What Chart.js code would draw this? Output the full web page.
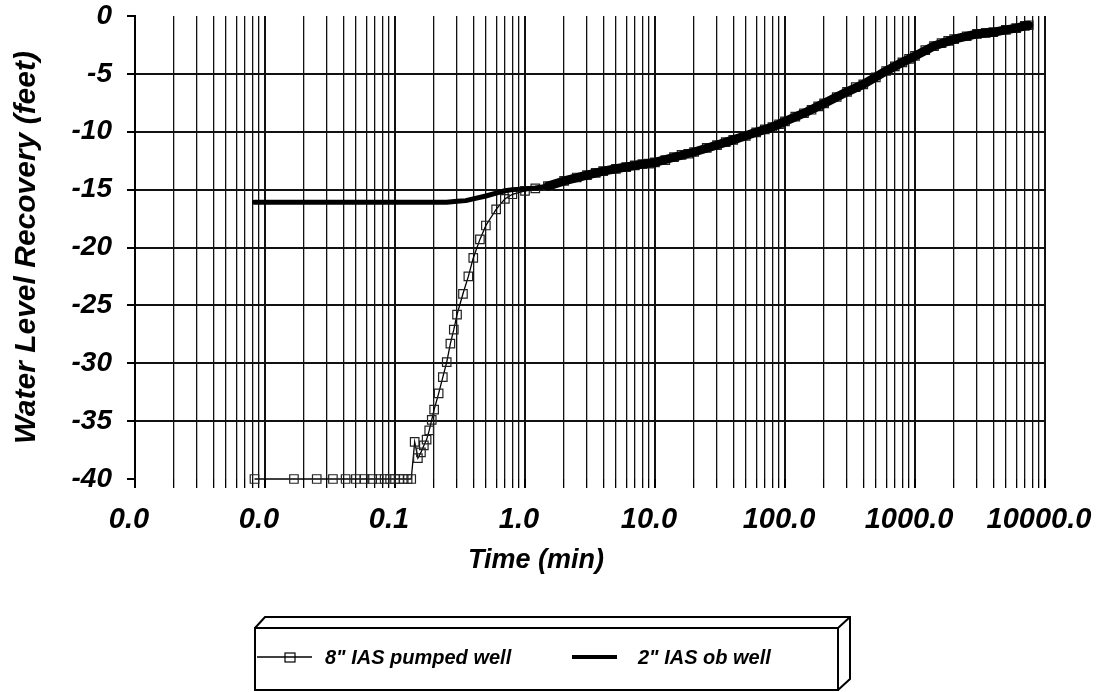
<!DOCTYPE html>
<html>
<head>
<meta charset="utf-8">
<script src="https://cdn.jsdelivr.net/npm/chart.js@4.4.0/dist/chart.umd.min.js"></script>
<style>
    body { margin: 0; background: #fff; }
    #wrap { width: 1101px; height: 692px; }
</style>
</head>
<body>
<div id="wrap"><canvas id="chartRecovery"></canvas></div>
<script>
// time since pump stop (min) and water level recovery (feet)
const pumpedTime = [0.0083, 0.0167, 0.025, 0.0333, 0.0417, 0.05, 0.0583, 0.0667, 0.075, 0.0833, 0.0917, 0.1, 0.1083, 0.1167, 0.125, 0.1333,
    0.1417, 0.15, 0.1583, 0.1667, 0.175, 0.1833, 0.1917, 0.2, 0.2167, 0.2333, 0.25, 0.2667, 0.2833, 0.3, 0.3333, 0.3667, 0.4, 0.45, 0.5,
    0.6, 0.7, 0.8, 1.0, 1.2, 1.5, 2, 2.5, 3, 3.5, 4, 5, 6, 7, 8, 9, 10, 12, 14, 16, 18, 20, 25, 30, 35, 40, 50, 60, 70, 80, 90,
    100, 120, 140, 160, 180, 200, 250, 300, 350, 400, 500, 600, 700, 800, 900, 1000, 1200, 1400, 1600, 1800, 2000, 2500, 3000,
    3500, 4000, 5000, 6000, 7000, 7500]
const pumpedLevel = [-40, -40, -40, -40, -40, -40, -40, -40, -40, -40, -40, -40, -40, -40, -40, -40,
    -36.8, -38.2, -37.7, -37.1, -36.6, -35.8, -34.9, -34.0, -32.6, -31.2, -29.9, -28.3, -27.1, -25.8, -24.0, -22.5, -20.9, -19.3, -18.1,
    -16.7, -15.8, -15.4, -15.1, -14.9, -14.7, -14.25, -13.95, -13.75, -13.55, -13.4, -13.2, -13.05, -12.9, -12.8, -12.75, -12.65,
    -12.45, -12.2, -12.0, -11.9, -11.75, -11.4, -11.15, -10.9, -10.7, -10.35, -10.05, -9.8, -9.6, -9.35,
    -9.1, -8.7, -8.4, -8.1, -7.8, -7.55, -7.0, -6.55, -6.15, -5.9, -5.3, -4.75, -4.35, -4.0, -3.7, -3.45, -2.95, -2.6, -2.35,
    -2.15, -2.0, -1.75, -1.55, -1.45, -1.4, -1.2, -1.05, -0.85, -0.8]

const obTime = [0.0083, 0.0167, 0.025, 0.0333, 0.05, 0.0667, 0.0833, 0.1, 0.125, 0.15, 0.175, 0.2, 0.25, 0.3, 0.35, 0.4, 0.5,
    0.6, 0.7, 0.8, 1.0, 1.2, 1.5, 2, 3, 4, 5, 6, 8, 10, 14, 20, 30, 40, 60, 80, 100, 140, 200, 300, 400, 600, 800, 1000,
    1400, 2000, 3000, 4000, 5000, 6000, 7000, 7500]
const obLevel = [-16.1, -16.1, -16.1, -16.1, -16.1, -16.1, -16.1, -16.1, -16.1, -16.1, -16.1, -16.1, -16.1, -16.0, -15.95, -15.8, -15.55,
    -15.3, -15.1, -15.0, -14.95, -14.85, -14.7, -14.25, -13.75, -13.4, -13.2, -13.05, -12.8, -12.65, -12.2, -11.75, -11.15, -10.7,
    -10.05, -9.6, -9.1, -8.4, -7.55, -6.55, -5.9, -4.75, -4.0, -3.45, -2.6, -2.0, -1.55, -1.4, -1.2, -1.05, -0.85, -0.8]

const seriesNames = ['8" IAS pumped well', '2" IAS ob well']
const xTickLabels = ['0.0', '0.0', '0.1', '1.0', '10.0', '100.0', '1000.0', '10000.0']
const yTickLabels = ['0', '-5', '-10', '-15', '-20', '-25', '-30', '-35', '-40']

const FONT = '"Liberation Sans", Arial, sans-serif';

function isDecade(v) {
    const lg = Math.log10(v);
    return Math.abs(lg - Math.round(lg)) < 1e-6;
}

// labels must not push the plot area around
function noScalePadding(scale) {
    scale.paddingTop = 0;
    scale.paddingBottom = 0;
    scale.paddingLeft = 0;
    scale.paddingRight = 0;
}

// x axis title + the boxed legend
const decorations = {
    id: 'decorations',
    afterDraw(chart) {
        const ctx = chart.ctx;
        ctx.save();
        ctx.fillStyle = '#000';
        ctx.strokeStyle = '#000';
        ctx.font = 'italic bold 27px ' + FONT;
        ctx.textAlign = 'center';
        ctx.textBaseline = 'middle';
        ctx.fillText('Time (min)', 536, 561);

        // legend box with its bevel
        ctx.lineWidth = 2;
        ctx.strokeRect(255, 628, 583, 62);
        ctx.beginPath();
        ctx.moveTo(255, 628);
        ctx.lineTo(265, 617);
        ctx.lineTo(850, 617);
        ctx.lineTo(850, 679);
        ctx.lineTo(838, 690);
        ctx.moveTo(838, 628);
        ctx.lineTo(850, 617);
        ctx.stroke();

        // pumped well sample
        ctx.lineWidth = 1.5;
        ctx.beginPath();
        ctx.moveTo(257, 657);
        ctx.lineTo(312, 657);
        ctx.stroke();
        ctx.lineWidth = 1.2;
        ctx.strokeRect(285, 653, 10, 9);
        // ob well sample
        ctx.lineWidth = 4;
        ctx.beginPath();
        ctx.moveTo(572, 657);
        ctx.lineTo(617, 657);
        ctx.stroke();

        ctx.font = 'italic bold 20px ' + FONT;
        ctx.textAlign = 'left';
        ctx.fillText(chart.data.datasets[0].label, 325, 658);
        ctx.fillText(chart.data.datasets[1].label, 638, 658);
        ctx.restore();
    }
};

const config = {
    type: 'line',
    data: {
        datasets: [{
                label: seriesNames[0],
                data: pumpedTime.map((t, i) => ({ x: t, y: pumpedLevel[i] })),
                borderColor: '#000',
                borderWidth: 1.3,
                pointStyle: 'rect',
                pointRadius: 6,
                pointBorderWidth: 1.2,
                pointBorderColor: '#222',
                pointBackgroundColor: 'rgba(0,0,0,0)',
                tension: 0,
                clip: false,
                order: 2
            },
            {
                label: seriesNames[1],
                data: obTime.map((t, i) => ({ x: t, y: obLevel[i] })),
                borderColor: '#000',
                borderWidth: 5,
                borderJoinStyle: 'round',
                borderCapStyle: 'round',
                segment: {
                    borderWidth: ctx => ctx.p0.parsed.x >= 1.5 ? 9 : 5
                },
                pointRadius: 0,
                tension: 0,
                order: 1
            }
        ]
    },
    options: {
        responsive: true,
        maintainAspectRatio: false,
        animation: false,
        layout: {
            padding: { top: 16, right: 56, left: 0, bottom: 0 }
        },
        plugins: {
            legend: { display: false },
            tooltip: { enabled: false }
        },
        scales: {
            x: {
                type: 'logarithmic',
                min: 0.001,
                max: 10000,
                afterBuildTicks: function(scale) {
                    const ticks = [];
                    for (let e = -3; e <= 3; e++) {
                        for (let m = 1; m <= 9; m++) {
                            ticks.push({ value: m * Math.pow(10, e) });
                        }
                    }
                    ticks.push({ value: 10000 });
                    scale.ticks = ticks;
                },
                afterFit: function(scale) {
                    scale.height = 213;
                    noScalePadding(scale);
                },
                border: { display: false },
                grid: {
                    color: '#111',
                    lineWidth: ctx => isDecade(ctx.tick.value) ? 2 : 1.3,
                    tickLength: 9,
                    tickColor: '#000'
                },
                ticks: {
                    autoSkip: false,
                    maxRotation: 0,
                    padding: 15,
                    labelOffset: -6,
                    color: '#000',
                    font: { family: FONT, size: 29, style: 'italic', weight: 'bold' },
                    callback: function(value) {
                        if (!isDecade(value)) return '';
                        return xTickLabels[Math.round(Math.log10(value)) + 3];
                    }
                }
            },
            y: {
                type: 'linear',
                min: -40,
                max: 0,
                afterFit: function(scale) {
                    scale.width = 135;
                    noScalePadding(scale);
                },
                border: { display: true, color: '#000', width: 2 },
                grid: {
                    color: ctx => (ctx.tick.value === 0 || ctx.tick.value === -40) ? 'rgba(0,0,0,0)' : '#111',
                    lineWidth: ctx => ctx.tick.value % 5 === 0 ? 2 : 1.5,
                    tickLength: 8,
                    tickColor: ctx => ctx.tick.value % 5 === 0 ? '#000' : 'rgba(0,0,0,0)'
                },
                ticks: {
                    stepSize: 2.5,
                    padding: 15,
                    color: '#000',
                    font: { family: FONT, size: 28, style: 'italic', weight: 'bold', lineHeight: 1 },
                    callback: function(value) {
                        if (value % 5 !== 0) return '';
                        return yTickLabels[Math.round(-value / 5)];
                    }
                },
                title: {
                    display: true,
                    text: 'Water Level Recovery (feet)',
                    color: '#000',
                    padding: { top: 9, bottom: 0 },
                    font: { family: FONT, size: 30, style: 'italic', weight: 'bold' }
                }
            }
        }
    },
    plugins: [decorations]
};

var chartRecovery = new Chart(document.getElementById('chartRecovery'), config);
</script>
</body>
</html>
